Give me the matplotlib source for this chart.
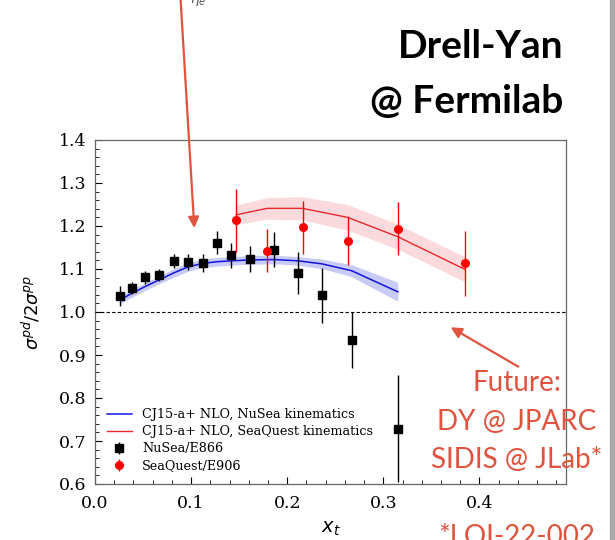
import numpy as np
import matplotlib
matplotlib.use("Agg")
import matplotlib.pyplot as plt
from matplotlib.patches import Rectangle

# NuSea / E866 measurements
nusea_x = [0.026, 0.038, 0.052, 0.067, 0.082, 0.097, 0.112, 0.127, 0.142,
           0.161, 0.186, 0.211, 0.236, 0.267, 0.315]
nusea_ratio = [1.038, 1.056, 1.081, 1.087, 1.118, 1.116, 1.115, 1.161, 1.132,
               1.124, 1.145, 1.091, 1.039, 0.935, 0.729]
nusea_err = [0.023, 0.014, 0.015, 0.014, 0.016, 0.019, 0.021, 0.027, 0.029,
             0.030, 0.040, 0.049, 0.064, 0.066, 0.124]

# SeaQuest / E906 measurements
seaquest_x = [0.147, 0.179, 0.216, 0.263, 0.315, 0.385]
seaquest_ratio = [1.213, 1.142, 1.197, 1.166, 1.194, 1.113]
seaquest_err = [0.073, 0.050, 0.061, 0.056, 0.061, 0.075]

# CJ15-a+ NLO predictions (central value and band half-width)
cj_nusea = [1.028, 1.043, 1.059, 1.075, 1.091, 1.105, 1.113, 1.117, 1.119,
            1.121, 1.122, 1.119, 1.112, 1.096, 1.047]
cj_nusea_unc = [0.009, 0.009, 0.009, 0.009, 0.010, 0.010, 0.010, 0.010, 0.010,
                0.010, 0.010, 0.010, 0.011, 0.014, 0.022]
cj_seaquest = [1.226, 1.241, 1.241, 1.220, 1.175, 1.099]
cj_seaquest_unc = [0.023, 0.025, 0.027, 0.030, 0.029, 0.029]

RED_NOTE = "#e0533f"
W, H = 615, 540

fig = plt.figure(figsize=(W / 100, H / 100), dpi=100)
ax = fig.add_axes([95 / W, 1 - 484 / H, 471 / W, 344 / H])

cn = np.array(cj_nusea)
cnu = np.array(cj_nusea_unc)
cs = np.array(cj_seaquest)
csu = np.array(cj_seaquest_unc)

ax.fill_between(nusea_x, cn - cnu, cn + cnu, color="#c9cbf7", lw=0, zorder=1)
ax.fill_between(seaquest_x, cs - csu, cs + csu, color="#fbdadd", lw=0, zorder=1)
ax.plot(nusea_x, cn, color="#1414e0", lw=1.1, zorder=2,
        label="CJ15-a+ NLO, NuSea kinematics")
ax.plot(seaquest_x, cs, color="#e8282c", lw=1.0, zorder=2,
        label="CJ15-a+ NLO, SeaQuest kinematics")

ax.errorbar(nusea_x, nusea_ratio, yerr=nusea_err, fmt="s", color="black",
            ms=5.5, elinewidth=1.0, capsize=0, zorder=4, label="NuSea/E866")
ax.errorbar(seaquest_x, seaquest_ratio, yerr=seaquest_err, fmt="o", color="#ff0000",
            ms=5.5, elinewidth=1.0, capsize=0, zorder=5, label="SeaQuest/E906")

ax.axhline(1.0, color="black", ls="--", lw=0.8, dashes=(3, 2), zorder=3)

ax.set_xlim(0, 0.49)
ax.set_ylim(0.6, 1.4)
ax.set_xticks([0.0, 0.1, 0.2, 0.3, 0.4])
ax.set_yticks(np.round(np.arange(0.6, 1.41, 0.1), 1))
ax.set_xticks(np.arange(0, 0.49, 0.02), minor=True)
ax.set_yticks(np.arange(0.6, 1.4, 0.02), minor=True)
ax.set_xticklabels(["0.0", "0.1", "0.2", "0.3", "0.4"], family="DejaVu Serif", fontsize=12.5)
ax.set_yticklabels([f"{v:.1f}" for v in np.arange(0.6, 1.41, 0.1)],
                   family="DejaVu Serif", fontsize=12.5)
ax.tick_params(which="major", direction="in", length=5, width=0.8, pad=6)
ax.tick_params(which="minor", direction="in", length=3, width=0.6)
ax.tick_params(axis="x", pad=8)
for s in ax.spines.values():
    s.set_color("#666666")
    s.set_linewidth(0.9)

ax.set_xlabel(r"$x_t$", fontsize=14, labelpad=5)
ax.set_ylabel(r"$\sigma^{pd}/2\sigma^{pp}$", fontsize=13, labelpad=12)

leg = ax.legend(loc="lower left", frameon=False, prop={"family": "DejaVu Serif", "size": 9.2},
                labelspacing=0.32, handlelength=2.0)

# slide annotations
fig.text(563 / W, 1 - 58 / H, "Drell-Yan", ha="right", va="baseline",
         family="Lato", fontweight="bold", fontsize=28, color="black")
fig.text(563 / W, 1 - 113 / H, "@ Fermilab", ha="right", va="baseline",
         family="Lato", fontweight="bold", fontsize=28, color="black")

for txt, yb in [("Future:", 391), ("DY @ JPARC", 430), ("SIDIS @ JLab*", 468),
                ("*LOI-22-002", 545)]:
    fig.text(517 / W, 1 - yb / H, txt, ha="center", va="baseline",
             family="Lato", fontsize=20, color=RED_NOTE)

fig.text(190 / W, 1 - 3 / H, r"$\eta_e$", ha="left", va="baseline",
         fontsize=10, color="#555555")

arrow = dict(arrowstyle="-|>", color=RED_NOTE, lw=1.6, mutation_scale=16,
             shrinkA=0, shrinkB=0)
ax.annotate("", xy=(194.3, H - 228), xytext=(180.5, H + 2),
            xycoords="figure pixels", textcoords="figure pixels",
            arrowprops=arrow, annotation_clip=False)
ax.annotate("", xy=(450.7, H - 327.3), xytext=(518.3, H - 366.7),
            xycoords="figure pixels", textcoords="figure pixels",
            arrowprops=arrow, annotation_clip=False)

fig.patches.append(Rectangle((610 / W, 0), 5 / W, 1, transform=fig.transFigure,
                             color="#a8a8a8", zorder=0))

fig.savefig("out.png", dpi=100)
